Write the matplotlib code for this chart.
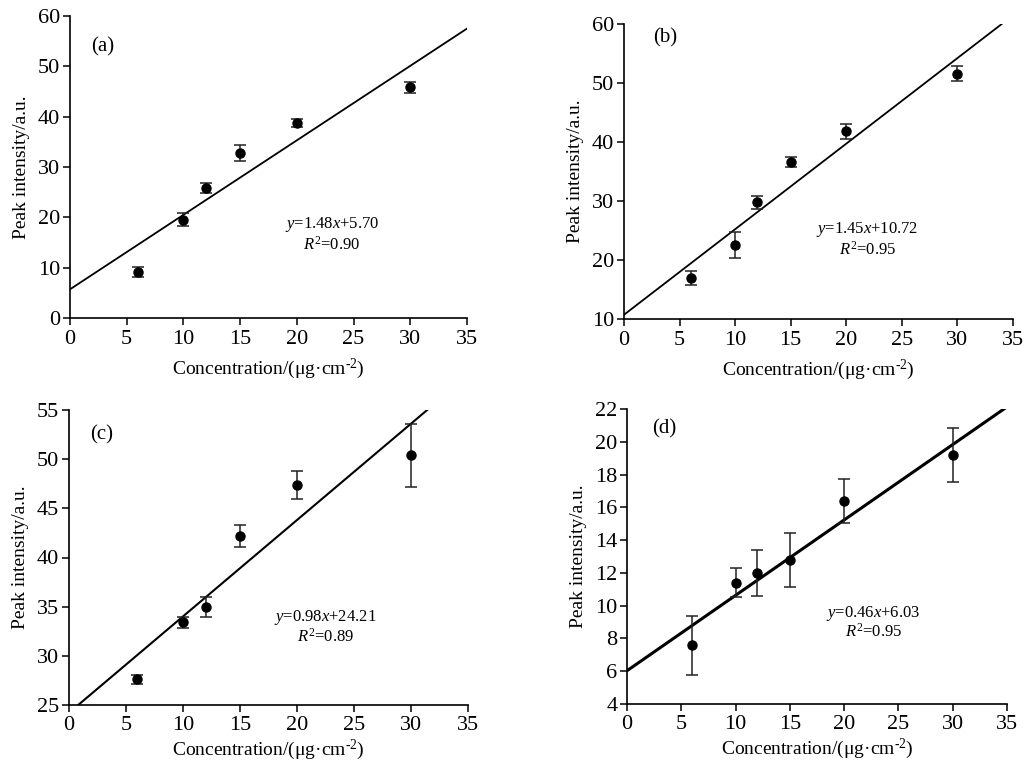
import matplotlib
matplotlib.use("Agg")
import matplotlib.pyplot as plt
import numpy as np

plt.rcParams['font.family'] = ['Liberation Serif', 'DejaVu Serif']
plt.rcParams['mathtext.fontset'] = 'custom'
plt.rcParams['mathtext.rm'] = 'Liberation Serif'
plt.rcParams['mathtext.it'] = 'Liberation Serif:italic'

conc = [6, 10, 12, 15, 20, 30]

a_y = [9.2, 19.5, 25.8, 32.8, 38.8, 45.8]
a_err = [1.0, 1.3, 1.0, 1.6, 0.8, 1.0]
b_y = [17.0, 22.6, 29.8, 36.6, 41.8, 51.6]
b_err = [1.2, 2.2, 1.1, 0.9, 1.3, 1.3]
c_y = [27.6, 33.4, 35.0, 42.2, 47.4, 50.4]
c_err = [0.5, 0.6, 1.0, 1.1, 1.4, 3.2]
d_y = [7.6, 11.4, 12.0, 12.8, 16.4, 19.2]
d_err = [1.8, 0.9, 1.4, 1.65, 1.35, 1.65]

slopes = [1.48, 1.45, 0.98, 0.46]
intercepts = [5.70, 10.72, 24.21, 6.03]
r2 = ["0.90", "0.95", "0.89", "0.95"]
panel_labels = ["(a)", "(b)", "(c)", "(d)"]

ylims = [(0, 60), (10, 60), (25, 55), (4, 22)]
yticks = [np.arange(0, 61, 10), np.arange(10, 61, 10), np.arange(25, 56, 5), np.arange(4, 23, 2)]
fit_xmax = [35, 34, 35, 35]
fit_lw = [1.3, 1.3, 1.5, 2.2]

W, H = 1027, 764
rects_px = [(70, 16, 467, 318), (624, 24, 1013, 319), (69, 410, 468, 705), (627, 409, 1007, 704)]
label_pos = [(1.9, 53.8), (2.6, 57.6), (1.84, 52.5), (2.3, 20.8)]
eq_pos = [(23.1, 18.5, 14.6), (21.9, 25.1, 21.7), (22.5, 33.9, 31.9), (22.7, 9.55, 8.4)]
xlabel_pad = [5, 5, 2, 2]

ys = [a_y, b_y, c_y, d_y]
errs = [a_err, b_err, c_err, d_err]

fig = plt.figure(figsize=(W / 100, H / 100), dpi=100)
for i in range(4):
    l, t, r, b = rects_px[i]
    ax = fig.add_axes([l / W, (H - b) / H, (r - l) / W, (b - t) / H])
    ax.errorbar(conc, ys[i], yerr=errs[i], fmt='o', color='black', ecolor='#222222',
                elinewidth=1.1, capsize=4, capthick=1.1, markersize=6.5, zorder=3)
    xs = np.linspace(0, fit_xmax[i], 200)
    ax.plot(xs, slopes[i] * xs + intercepts[i], color='black', lw=fit_lw[i], zorder=2)
    ax.set_xlim(0, 35)
    ax.set_ylim(*ylims[i])
    ax.set_xticks(np.arange(0, 36, 5))
    ax.set_yticks(yticks[i])
    for s in ['top', 'right']:
        ax.spines[s].set_visible(False)
    for s in ['left', 'bottom']:
        ax.spines[s].set_linewidth(1.2)
    ax.tick_params(direction='out', length=5, width=1.1, labelsize=16, pad=2)
    ax.tick_params(axis='x', pad=4 if i < 2 else 3)
    ax.set_xlabel(r"Concentration/(μg·cm$^{\text{-2}}$)", fontsize=14,
                  labelpad=xlabel_pad[i])
    ax.set_ylabel("Peak intensity/a.u.", fontsize=14, labelpad=6)
    ax.text(label_pos[i][0], label_pos[i][1], panel_labels[i], fontsize=15,
            ha='left', va='center')
    ex, ey1, ey2 = eq_pos[i]
    ax.text(ex, ey1, f"$y$={slopes[i]:.2f}$x$+{intercepts[i]:.2f}", fontsize=12,
            ha='center', va='center')
    ax.text(ex, ey2, f"$R^2$={r2[i]}", fontsize=12, ha='center', va='center')

fig.savefig("out.png", dpi=100)
